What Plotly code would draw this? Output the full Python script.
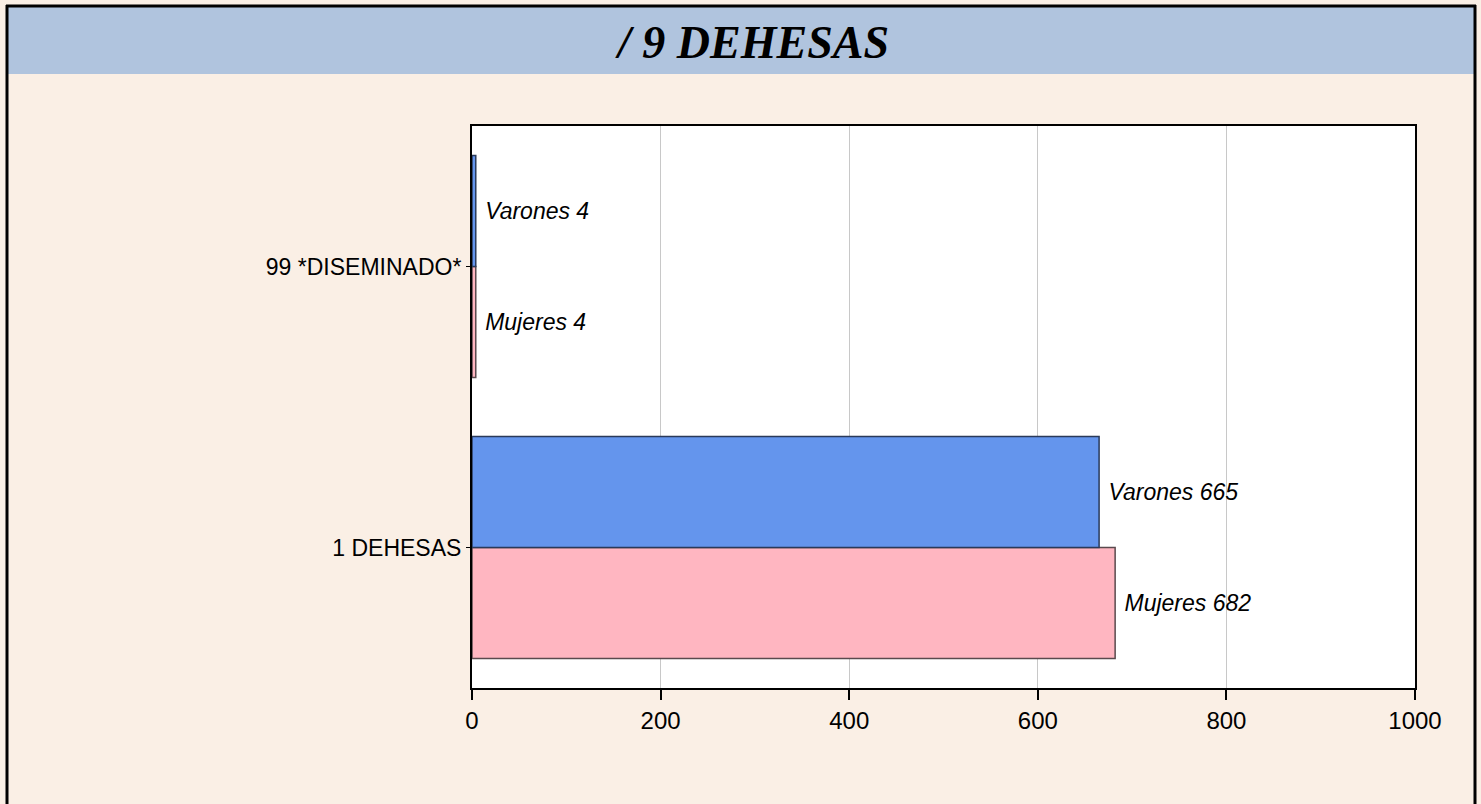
import plotly.graph_objects as go

# ---- data ----
categories = ["1 DEHESAS", "99 *DISEMINADO*"]
varones = [665, 4]
mujeres = [682, 4]
title_text = "/ 9 DEHESAS"
x_ticks = [0, 200, 400, 600, 800, 1000]

W, H = 1481, 804
px_l, px_r, px_t, px_b = 472, 1415, 126, 688

label_font = dict(family="Liberation Sans", size=23, color="black", style="italic")

fig = go.Figure()
fig.add_trace(go.Bar(
    y=categories, x=mujeres, orientation="h", name="Mujeres",
    marker=dict(color="#FFB6C1", line=dict(color="#5a4a4e", width=1.5)),
    text=[f" Mujeres {v}" for v in mujeres], textposition="outside",
    textfont=label_font, cliponaxis=False,
))
fig.add_trace(go.Bar(
    y=categories, x=varones, orientation="h", name="Varones",
    marker=dict(color="#6495ED", line=dict(color="#2a3a5a", width=1.5)),
    text=[f" Varones {v}" for v in varones], textposition="outside",
    textfont=label_font, cliponaxis=False,
))

shapes = [
    # title band
    dict(type="rect", xref="paper", yref="paper",
         x0=7 / W, x1=1474 / W, y0=1 - 74 / H, y1=1 - 6 / H,
         fillcolor="#B0C4DE", line=dict(width=0), layer="below"),
    # outer frame (left, top, right)
    dict(type="line", xref="paper", yref="paper",
         x0=7 / W, x1=7 / W, y0=0, y1=1 - 5 / H, line=dict(color="black", width=3)),
    dict(type="line", xref="paper", yref="paper",
         x0=6 / W, x1=1476 / W, y0=1 - 6 / H, y1=1 - 6 / H, line=dict(color="black", width=3)),
    dict(type="line", xref="paper", yref="paper",
         x0=1475 / W, x1=1475 / W, y0=0, y1=1 - 5 / H, line=dict(color="black", width=3)),
]

fig.update_layout(
    width=W, height=H,
    margin=dict(l=0, r=0, t=0, b=0),
    paper_bgcolor="#FAEFE5",
    plot_bgcolor="white",
    barmode="group",
    bargap=0.21,
    bargroupgap=0,
    showlegend=False,
    shapes=shapes,
    annotations=[dict(
        text=f"<b><i>{title_text}</i></b>", xref="paper", yref="paper",
        x=752 / W, y=1 - 42 / H, xanchor="center", yanchor="middle",
        showarrow=False, font=dict(family="Liberation Serif", size=46, color="black"),
    )],
    xaxis=dict(
        domain=[px_l / W, px_r / W], range=[0, 1000], tickvals=x_ticks,
        showgrid=True, gridcolor="#c8c8c8", gridwidth=1,
        showline=True, linecolor="black", linewidth=2, mirror=True,
        ticks="outside", ticklen=10, tickcolor="black", tickwidth=2,
        tickfont=dict(family="Liberation Sans", size=24, color="black"),
        zeroline=False, automargin=False,
    ),
    yaxis=dict(
        domain=[1 - px_b / H, 1 - px_t / H], type="category",
        categoryorder="array", categoryarray=categories, range=[-0.5, 1.5],
        showgrid=False, showline=True, linecolor="black", linewidth=2, mirror=True,
        ticks="outside", ticklen=4, tickcolor="black",
        tickfont=dict(family="Liberation Sans", size=23, color="black"),
        automargin=False,
    ),
)

fig.write_html("out.html", config={"displayModeBar": False},
               post_script="document.body.style.margin='0';")
